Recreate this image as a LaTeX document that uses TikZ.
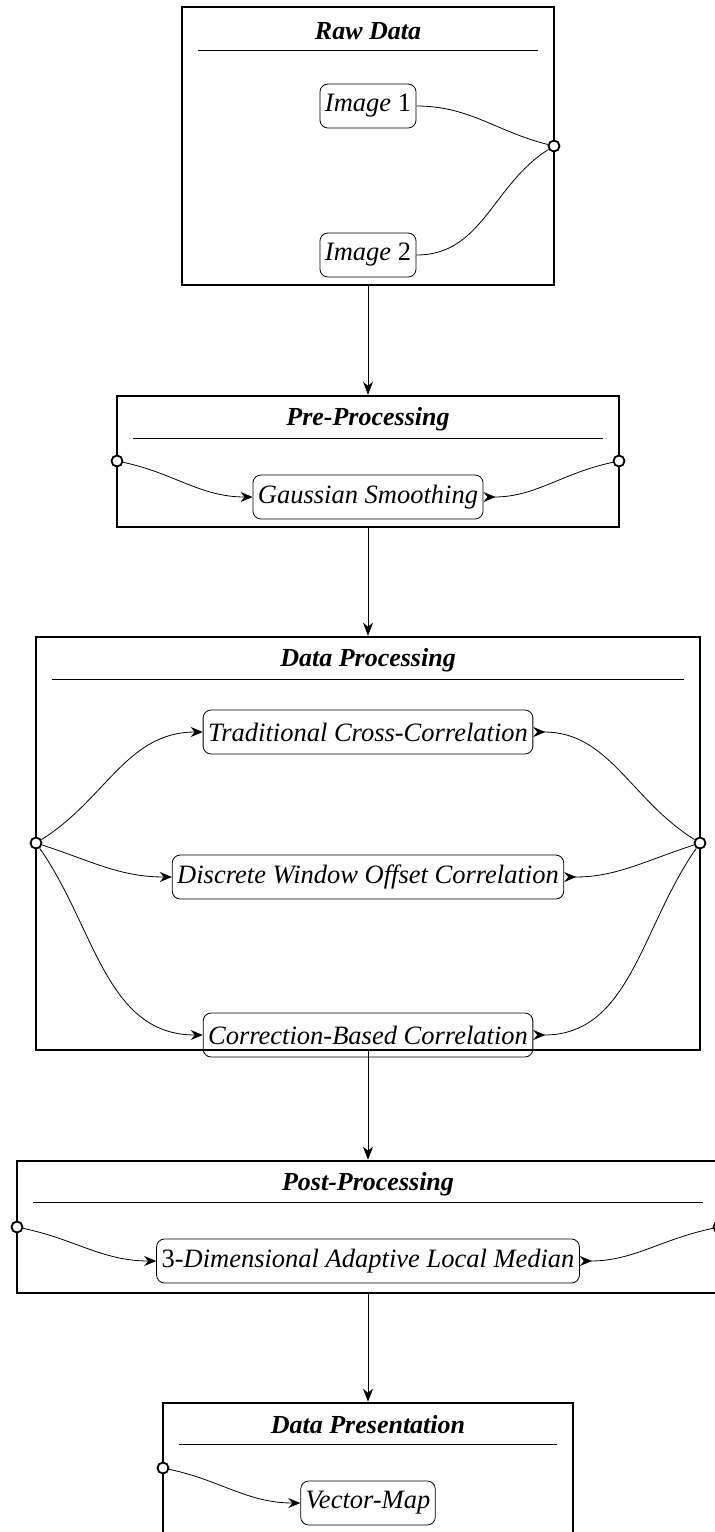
\documentclass[tikz,border=0pt]{standalone}
\usepackage{fontspec}
\setmainfont{Liberation Serif}
\usetikzlibrary{arrows.meta}
\begin{document}
\begin{tikzpicture}[x=1pt,y=-1pt,
  obox/.style={draw, line width=2.6pt, rectangle, inner sep=0pt},
  ttl/.style={font=\fontsize{26}{30}\selectfont\bfseries\itshape, inner sep=0pt},
  rulel/.style={line width=0.8pt},
  step box/.style={draw, line width=0.8pt, rounded corners=8pt, minimum height=44pt,
     inner sep=5pt, font=\fontsize{26.5}{30}\selectfont\itshape},
  port/.style={draw, circle, fill=white, line width=1.8pt, minimum size=11pt, inner sep=0pt},
  conn/.style={line width=0.8pt},
  tipin/.style={-{Stealth[length=12pt,width=10pt,inset=4pt]}},
  tipout/.style={{Stealth[length=12pt,width=10pt,inset=4pt,reversed]}-},
  flow/.style={line width=0.8pt, -{Stealth[length=13pt,width=10pt,inset=4pt]}}
]
\useasboundingbox (0,0) rectangle (715,1532);
\clip (0,0) rectangle (715,1532);

% ---------- Box 1: Raw Data
\node[obox, minimum width=372pt, minimum height=278pt] (B1) at (368,146) {};
\node[ttl] (T1) at (368,31) {Raw Data};
\draw[rulel] (198,50) -- (538,50);
\node[step box] (I1) at (368,106) {Image \upshape 1};
\node[step box] (I2) at (368,255) {Image \upshape 2};
\node[port] (P1) at (554,146) {};
\draw[conn] (I1.east) to[out=0,in=166] (P1);
\draw[conn] (I2.east) to[out=0,in=212] (P1);

% ---------- Box 2: Pre-Processing
\node[obox, minimum width=502pt, minimum height=131pt] (B2) at (368,461.5) {};
\node[ttl] (T2) at (368,419) {Pre-Processing};
\draw[rulel] (133,438) -- (603,438);
\node[step box] (G) at (368,497) {Gaussian Smoothing};
\node[port] (P2a) at (117,461) {};
\node[port] (P2b) at (619,461) {};
\draw[conn,tipin] (P2a) to[out=-12,in=180] (G.west);
\draw[conn,tipout] (G.east) to[out=0,in=192] (P2b);

% ---------- Box 3: Data Processing
\node[obox, minimum width=664pt, minimum height=413pt] (B3) at (368,843.5) {};
\node[ttl] (T3) at (368,660) {Data Processing};
\draw[rulel] (52,679) -- (684,679);
\node[step box] (C1) at (368,732) {Traditional Cross-Correlation};
\node[step box] (C2) at (368,877) {Discrete Window Offset Correlation};
\node[step box] (C3) at (368,1035) {Correction-Based Correlation};
\node[port] (P3a) at (36,843) {};
\node[port] (P3b) at (700,843) {};
\draw[conn,tipin] (P3a) to[out=32,in=180] (C1.west);
\draw[conn,tipin] (P3a) to[out=-18,in=180] (C2.west);
\draw[conn,tipin] (P3a) to[out=-55,in=180] (C3.west);
\draw[conn,tipout] (C1.east) to[out=0,in=148] (P3b);
\draw[conn,tipout] (C2.east) to[out=0,in=198] (P3b);
\draw[conn,tipout] (C3.east) to[out=0,in=235] (P3b);

% ---------- Box 4: Post-Processing
\node[obox, minimum width=702pt, minimum height=132pt] (B4) at (368,1227) {};
\node[ttl] (T4) at (368,1184) {Post-Processing};
\draw[rulel] (33,1202) -- (703,1202);
\node[step box] (M) at (368,1261) {\upshape 3-\itshape Dimensional Adaptive Local Median};
\node[port] (P4a) at (17,1227) {};
\node[port] (P4b) at (719,1227) {};
\draw[conn,tipin] (P4a) to[out=-12,in=180] (M.west);
\draw[conn,tipout] (M.east) to[out=0,in=192] (P4b);

% ---------- Box 5: Data Presentation
\node[obox, minimum width=410pt, minimum height=131pt] (B5) at (368,1468.5) {};
\node[ttl] (T5) at (368,1425) {Data Presentation};
\draw[rulel] (179,1444) -- (557,1444);
\node[step box] (V) at (368,1503) {Vector-Map};
\node[port] (P5a) at (163,1468) {};
\draw[conn,tipin] (P5a) to[out=-12,in=180] (V.west);

% ---------- flow between stages
\draw[flow] (B1.south) -- (B2.north);
\draw[flow] (B2.south) -- (B3.north);
\draw[flow] (B3.south) -- (B4.north);
\draw[flow] (B4.south) -- (B5.north);
\end{tikzpicture}
\end{document}
